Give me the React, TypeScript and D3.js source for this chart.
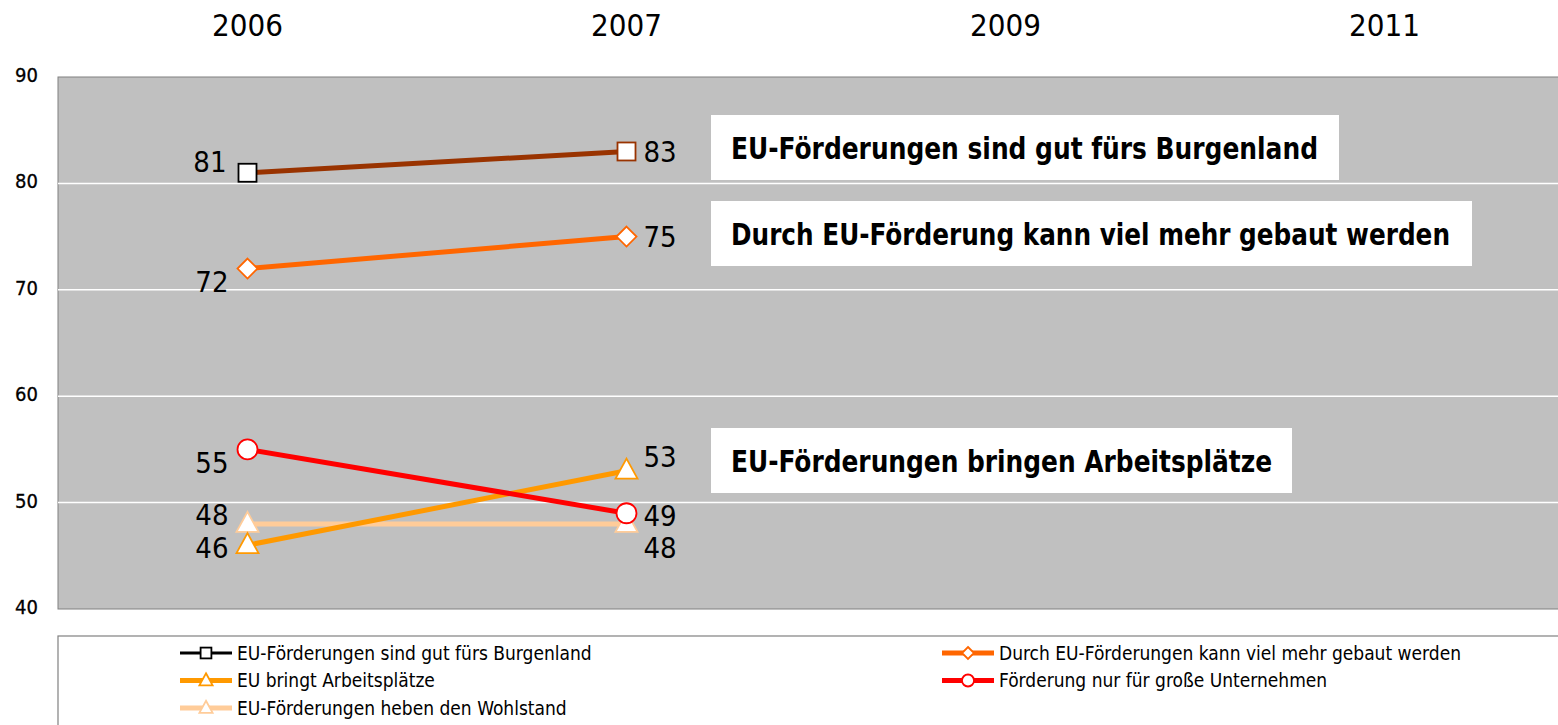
import React from "react";
import * as d3 from "d3";

const years = ["2006", "2007", "2009", "2011"];
const yTicks = [40, 50, 60, 70, 80, 90];

const seriesNames = [
  "EU-Förderungen sind gut fürs Burgenland",
  "Durch EU-Förderungen kann viel mehr gebaut werden",
  "EU bringt Arbeitsplätze",
  "Förderung nur für große Unternehmen",
  "EU-Förderungen heben den Wohlstand",
];
const sGut = [81, 83];
const sGebaut = [72, 75];
const sArbeit = [46, 53];
const sGross = [55, 49];
const sWohlstand = [48, 48];
const seriesValues = [sGut, sGebaut, sArbeit, sGross, sWohlstand];

const annotations = [
  "EU-Förderungen sind gut fürs Burgenland",
  "Durch EU-Förderung kann viel mehr gebaut werden",
  "EU-Förderungen bringen Arbeitsplätze",
];

// styles / layout
const annBoxes = [
  { x: 711, y: 115, w: 628, h: 65, tl: 587 },
  { x: 711, y: 201, w: 761, h: 65, tl: 719 },
  { x: 711, y: 428, w: 581, h: 65, tl: 541 },
];
const styles = [
  { line: "#993300", legend: "#000000", marker: "square", stroke: ["#000000", "#993300"] },
  { line: "#FF6600", legend: "#FF6600", marker: "diamond", stroke: ["#FF6600", "#FF6600"] },
  { line: "#FF9900", legend: "#FF9900", marker: "triangle", stroke: ["#FF9900", "#FF9900"] },
  { line: "#FF0000", legend: "#FF0000", marker: "circle", stroke: ["#FF0000", "#FF0000"] },
  { line: "#FFCC99", legend: "#FFCC99", marker: "triangle", stroke: ["#FFCC99", "#FFCC99"] },
];
// label offsets [dx, dy, anchor] per point
const labelPos: [number, number, string][][] = [
  [[-21, -11, "end"], [17, 0, "start"]],
  [[-19, 13, "end"], [17, 0, "start"]],
  [[-19, 3, "end"], [17, -14, "start"]],
  [[-19, 13, "end"], [17, 3, "start"]],
  [[-19, -9, "end"], [17, 24, "start"]],
];

const FONT = "'Liberation Sans Narrow', 'DejaVu Sans Condensed', 'Arial Narrow', sans-serif";

function Marker({ type, x, y, stroke, s = 1 }: any) {
  const sw = 1.8;
  if (type === "square") {
    const h = 9 * s;
    return <rect x={x - h} y={y - h} width={2 * h} height={2 * h} fill="#fff" stroke={stroke} strokeWidth={sw} />;
  }
  if (type === "diamond") {
    const h = 10 * s;
    return <path d={`M${x},${y - h}L${x + h},${y}L${x},${y + h}L${x - h},${y}Z`} fill="#fff" stroke={stroke} strokeWidth={sw} />;
  }
  if (type === "circle") {
    return <circle cx={x} cy={y} r={10 * s} fill="#fff" stroke={stroke} strokeWidth={sw} />;
  }
  const w = 11 * s;
  return <path d={`M${x},${y - 12 * s}L${x + w},${y + 8 * s}L${x - w},${y + 8 * s}Z`} fill="#fff" stroke={stroke} strokeWidth={sw} />;
}

export default function App() {
  const W = 1558, H = 725;
  const left = 58, top = 77, bottom = 609;
  const step = 379;
  const x = d3.scaleBand<string>().domain(years).range([left, left + step * years.length]);
  const cx = (yr: string) => (x(yr) as number) + x.bandwidth() / 2;
  const y = d3.scaleLinear().domain([40, 90]).range([bottom, top]);
  const line = d3.line<number>().x((_, i) => cx(years[i])).y((v) => y(v));

  return (
    <div style={{ position: "absolute", left: 0, top: 0 }}>
      <svg width={W} height={H} style={{ display: "block", fontFamily: FONT }}>
        <rect x={0} y={0} width={W} height={H} fill="#fff" />
        <rect x={left} y={top} width={W - left + 5} height={bottom - top} fill="#C0C0C0" stroke="#808080" strokeWidth={1} />
        {yTicks.filter((t) => t > 40 && t < 90).map((t) => (
          <line key={t} x1={left} x2={W} y1={y(t)} y2={y(t)} stroke="#ffffff" strokeWidth={1.5} />
        ))}
        {yTicks.map((t) => (
          <text key={t} x={38} y={y(t) - 2} dy="0.35em" textAnchor="end" fontSize={20} fill="#000" stroke="#000" strokeWidth={0.3}>{t}</text>
        ))}
        {years.map((yr) => (
          <text key={yr} x={cx(yr)} y={36} textAnchor="middle" fontSize={31} fill="#000">{yr}</text>
        ))}
        {/* annotations */}
        {annotations.map((a, i) => {
          const b = annBoxes[i];
          return (
            <g key={a}>
              <rect x={b.x} y={b.y} width={b.w} height={b.h} fill="#fff" />
              <text x={b.x + 20} y={b.y + b.h / 2 + 1} dy="0.35em" fontSize={31} fontWeight="bold" fill="#000"
                textLength={b.tl} lengthAdjust="spacingAndGlyphs">{a}</text>
            </g>
          );
        })}
        {/* data labels */}
        {seriesValues.map((vals, si) =>
          vals.map((v, i) => {
            const [dx, dy, anchor] = labelPos[si][i];
            return (
              <text key={`l${si}-${i}`} x={cx(years[i]) + dx} y={y(v) + dy} dy="0.35em" textAnchor={anchor as any}
                fontSize={29} fill="#000">{v}</text>
            );
          })
        )}
        {/* lines */}
        {[4, 2, 3, 1, 0].map((si) => (
          <path key={`p${si}`} d={line(seriesValues[si]) as string} fill="none" stroke={styles[si].line} strokeWidth={5} />
        ))}
        {[4, 2, 3, 1, 0].map((si) =>
          seriesValues[si].map((v, i) => (
            <Marker key={`m${si}-${i}`} type={styles[si].marker} x={cx(years[i])} y={y(v)} stroke={styles[si].stroke[i]} />
          ))
        )}
        {/* legend */}
        <rect x={left} y={636} width={W} height={120} fill="#fff" stroke="#808080" strokeWidth={1.2} />
        {seriesNames.map((n, i) => {
          const col = i % 2;
          const row = Math.floor(i / 2);
          const lx = col === 0 ? 180 : 942;
          const ly = 653 + row * 27.5;
          return (
            <g key={n}>
              <line x1={lx} x2={lx + 52} y1={ly} y2={ly} stroke={styles[i].legend} strokeWidth={i === 0 ? 3 : 5} />
              <Marker type={styles[i].marker} x={lx + 26} y={ly} stroke={styles[i].legend} s={0.6} />
              <text x={lx + 57} y={ly} dy="0.35em" fontSize={19} fill="#000">{n}</text>
            </g>
          );
        })}
      </svg>
    </div>
  );
}
